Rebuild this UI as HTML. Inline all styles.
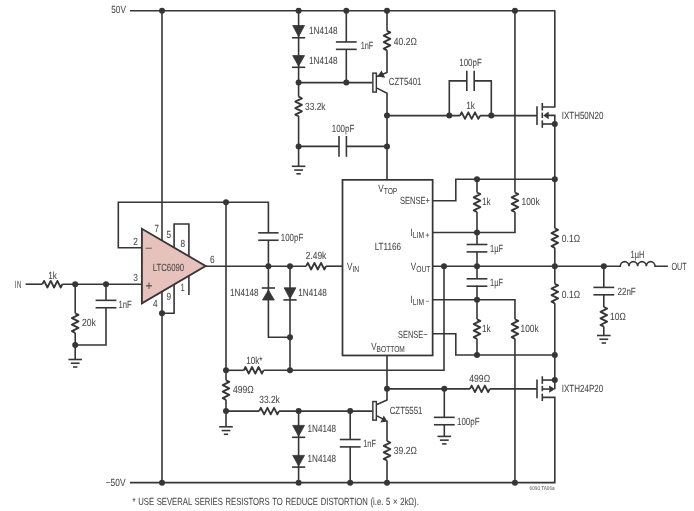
<!DOCTYPE html>
<html lang="en">
<head>
<meta charset="utf-8">
<title>LTC6090 / LT1166 high voltage amplifier schematic</title>
<style>
html,body{margin:0;padding:0;background:#fff;}
body{width:694px;height:511px;overflow:hidden;}
svg{display:block;}
svg{will-change:transform;}
svg text{font-family:"Liberation Sans",sans-serif;text-rendering:geometricPrecision;}
</style>
</head>
<body>
<svg width="694" height="511" viewBox="0 0 694 511">
<rect x="0" y="0" width="694" height="511" fill="#ffffff"/>
<g transform="translate(0,0)">
<path d="M130 10.8 L554.8 10.8 L554.8 107 L542.3 107" fill="none" stroke="#363636" stroke-width="1.6" stroke-linecap="butt" stroke-linejoin="miter"/>
<path d="M130 482.65 L554.8 482.65 L554.8 397.35 L542.3 397.35" fill="none" stroke="#363636" stroke-width="1.6" stroke-linecap="butt" stroke-linejoin="miter"/>
<circle cx="162" cy="10.8" r="3" fill="#363636"/>
<circle cx="298.6" cy="10.8" r="3" fill="#363636"/>
<circle cx="346.3" cy="10.8" r="3" fill="#363636"/>
<circle cx="387" cy="10.8" r="3" fill="#363636"/>
<circle cx="514.95" cy="10.8" r="3" fill="#363636"/>
<circle cx="162" cy="482.65" r="3" fill="#363636"/>
<circle cx="298.6" cy="482.65" r="3" fill="#363636"/>
<circle cx="350.2" cy="482.65" r="3" fill="#363636"/>
<circle cx="387" cy="482.65" r="3" fill="#363636"/>
<circle cx="514.95" cy="482.65" r="3" fill="#363636"/>
<path d="M298.6 10.8 L298.6 96.7" fill="none" stroke="#363636" stroke-width="1.6" stroke-linecap="butt" stroke-linejoin="miter"/>
<path d="M298.6 96.7 L301.9 98.33 L295.3 101.58 L301.9 104.83 L295.3 108.08 L301.9 111.33 L295.3 114.58 L298.6 116.2" fill="none" stroke="#363636" stroke-width="1.85" stroke-linecap="butt" stroke-linejoin="round"/>
<path d="M298.6 116.2 L298.6 166.3" fill="none" stroke="#363636" stroke-width="1.6" stroke-linecap="butt" stroke-linejoin="miter"/>
<polygon points="292.7,25.5 304.5,25.5 298.6,36.65" fill="#363636" stroke="#363636" stroke-width="0.8" stroke-linejoin="miter"/>
<path d="M292 37.75 L305.2 37.75" fill="none" stroke="#363636" stroke-width="1.6" stroke-linecap="butt" stroke-linejoin="miter"/>
<polygon points="292.7,55.6 304.5,55.6 298.6,66.2" fill="#363636" stroke="#363636" stroke-width="0.8" stroke-linejoin="miter"/>
<path d="M292 67.3 L305.2 67.3" fill="none" stroke="#363636" stroke-width="1.6" stroke-linecap="butt" stroke-linejoin="miter"/>
<circle cx="298.6" cy="82.6" r="3" fill="#363636"/>
<circle cx="298.6" cy="146.4" r="3" fill="#363636"/>
<path d="M291.8 166.3 L305.4 166.3" fill="none" stroke="#363636" stroke-width="1.6" stroke-linecap="butt" stroke-linejoin="miter"/>
<path d="M294.2 170.05 L303 170.05" fill="none" stroke="#363636" stroke-width="1.6" stroke-linecap="butt" stroke-linejoin="miter"/>
<path d="M296.4 173.8 L300.8 173.8" fill="none" stroke="#363636" stroke-width="1.6" stroke-linecap="butt" stroke-linejoin="miter"/>
<path d="M298.6 82.6 L372.1 82.6" fill="none" stroke="#363636" stroke-width="1.6" stroke-linecap="butt" stroke-linejoin="miter"/>
<circle cx="346.3" cy="82.6" r="3" fill="#363636"/>
<path d="M346.3 10.8 L346.3 42" fill="none" stroke="#363636" stroke-width="1.6" stroke-linecap="butt" stroke-linejoin="miter"/>
<path d="M346.3 49.3 L346.3 82.6" fill="none" stroke="#363636" stroke-width="1.6" stroke-linecap="butt" stroke-linejoin="miter"/>
<rect x="344.3" y="41.95" width="4" height="7.4" fill="#fff"/>
<path d="M335.9 41.95 L356.7 41.95" fill="none" stroke="#363636" stroke-width="1.6" stroke-linecap="butt" stroke-linejoin="miter"/>
<path d="M335.9 49.35 L356.7 49.35" fill="none" stroke="#363636" stroke-width="1.6" stroke-linecap="butt" stroke-linejoin="miter"/>
<path d="M298.6 146.4 L339 146.4" fill="none" stroke="#363636" stroke-width="1.6" stroke-linecap="butt" stroke-linejoin="miter"/>
<path d="M346.4 146.4 L387 146.4" fill="none" stroke="#363636" stroke-width="1.6" stroke-linecap="butt" stroke-linejoin="miter"/>
<rect x="339" y="144.4" width="7.4" height="4" fill="#fff"/>
<path d="M339 136 L339 156.8" fill="none" stroke="#363636" stroke-width="1.6" stroke-linecap="butt" stroke-linejoin="miter"/>
<path d="M346.4 136 L346.4 156.8" fill="none" stroke="#363636" stroke-width="1.6" stroke-linecap="butt" stroke-linejoin="miter"/>
<path d="M387 10.8 L387 30.8" fill="none" stroke="#363636" stroke-width="1.6" stroke-linecap="butt" stroke-linejoin="miter"/>
<path d="M387 30.8 L390.3 32.42 L383.7 35.67 L390.3 38.92 L383.7 42.17 L390.3 45.42 L383.7 48.67 L387 50.3" fill="none" stroke="#363636" stroke-width="1.85" stroke-linecap="butt" stroke-linejoin="round"/>
<path d="M387 50.3 L387 72.5 L377 76.4" fill="none" stroke="#363636" stroke-width="1.6" stroke-linecap="butt" stroke-linejoin="miter"/>
<rect x="372.85" y="73.15" width="3.5" height="18.9" fill="#fff" stroke="#363636" stroke-width="1.45"/>
<polygon points="377.3,76.4 381.6,70.5 385.2,77.8" fill="#363636"/>
<path d="M377 88.1 L387 93.3 L387 180" fill="none" stroke="#363636" stroke-width="1.6" stroke-linecap="butt" stroke-linejoin="miter"/>
<circle cx="387" cy="115.6" r="3" fill="#363636"/>
<circle cx="387" cy="146.4" r="3" fill="#363636"/>
<path d="M387 115.6 L460 115.6" fill="none" stroke="#363636" stroke-width="1.6" stroke-linecap="butt" stroke-linejoin="miter"/>
<path d="M460 115.6 L461.67 112.3 L465 118.9 L468.33 112.3 L471.67 118.9 L475 112.3 L478.33 118.9 L480 115.6" fill="none" stroke="#363636" stroke-width="1.85" stroke-linecap="butt" stroke-linejoin="round"/>
<path d="M480 115.6 L537 115.6" fill="none" stroke="#363636" stroke-width="1.6" stroke-linecap="butt" stroke-linejoin="miter"/>
<circle cx="449.3" cy="115.6" r="3" fill="#363636"/>
<circle cx="491.3" cy="115.6" r="3" fill="#363636"/>
<path d="M449.3 115.6 L449.3 80.85 L467 80.85" fill="none" stroke="#363636" stroke-width="1.6" stroke-linecap="butt" stroke-linejoin="miter"/>
<path d="M474 80.85 L491.3 80.85 L491.3 115.6" fill="none" stroke="#363636" stroke-width="1.6" stroke-linecap="butt" stroke-linejoin="miter"/>
<rect x="466.8" y="78.85" width="7.4" height="4" fill="#fff"/>
<path d="M466.8 70.65 L466.8 91.05" fill="none" stroke="#363636" stroke-width="1.6" stroke-linecap="butt" stroke-linejoin="miter"/>
<path d="M474.2 70.65 L474.2 91.05" fill="none" stroke="#363636" stroke-width="1.6" stroke-linecap="butt" stroke-linejoin="miter"/>
<path d="M537 106.2 L537 125" fill="none" stroke="#363636" stroke-width="1.6" stroke-linecap="butt" stroke-linejoin="miter"/>
<path d="M542.3 103 L542.3 110.6" fill="none" stroke="#363636" stroke-width="1.6" stroke-linecap="butt" stroke-linejoin="miter"/>
<path d="M542.3 112.6 L542.3 118" fill="none" stroke="#363636" stroke-width="1.6" stroke-linecap="butt" stroke-linejoin="miter"/>
<path d="M542.3 120.4 L542.3 127.8" fill="none" stroke="#363636" stroke-width="1.6" stroke-linecap="butt" stroke-linejoin="miter"/>
<path d="M542.3 124 L554.8 124" fill="none" stroke="#363636" stroke-width="1.6" stroke-linecap="butt" stroke-linejoin="miter"/>
<path d="M548 115.4 L554.8 115.4 L554.8 124" fill="none" stroke="#363636" stroke-width="1.6" stroke-linecap="butt" stroke-linejoin="miter"/>
<polygon points="543.2,115.4 548.7,111.6 548.7,119.2" fill="#363636"/>
<circle cx="554.8" cy="124" r="3" fill="#363636"/>
<path d="M537 379.45 L537 398.25" fill="none" stroke="#363636" stroke-width="1.6" stroke-linecap="butt" stroke-linejoin="miter"/>
<path d="M542.3 376.25 L542.3 383.85" fill="none" stroke="#363636" stroke-width="1.6" stroke-linecap="butt" stroke-linejoin="miter"/>
<path d="M542.3 385.85 L542.3 391.25" fill="none" stroke="#363636" stroke-width="1.6" stroke-linecap="butt" stroke-linejoin="miter"/>
<path d="M542.3 393.65 L542.3 401.05" fill="none" stroke="#363636" stroke-width="1.6" stroke-linecap="butt" stroke-linejoin="miter"/>
<path d="M542.3 380.05 L554.8 380.05" fill="none" stroke="#363636" stroke-width="1.6" stroke-linecap="butt" stroke-linejoin="miter"/>
<path d="M542.3 389.05 L549.5 389.05" fill="none" stroke="#363636" stroke-width="1.6" stroke-linecap="butt" stroke-linejoin="miter"/>
<path d="M554.8 380.05 L554.8 389.3" fill="none" stroke="#363636" stroke-width="1.6" stroke-linecap="butt" stroke-linejoin="miter"/>
<polygon points="554.9,389.05 549.2,385.45 549.2,392.75" fill="#363636"/>
<circle cx="554.8" cy="380.05" r="3" fill="#363636"/>
<path d="M554.8 124 L554.8 228.3" fill="none" stroke="#363636" stroke-width="1.6" stroke-linecap="butt" stroke-linejoin="miter"/>
<path d="M554.8 228.3 L558.1 229.93 L551.5 233.18 L558.1 236.43 L551.5 239.68 L558.1 242.93 L551.5 246.18 L554.8 247.8" fill="none" stroke="#363636" stroke-width="1.85" stroke-linecap="butt" stroke-linejoin="round"/>
<path d="M554.8 247.8 L554.8 283.8" fill="none" stroke="#363636" stroke-width="1.6" stroke-linecap="butt" stroke-linejoin="miter"/>
<path d="M554.8 283.8 L558.1 285.43 L551.5 288.68 L558.1 291.93 L551.5 295.18 L558.1 298.43 L551.5 301.68 L554.8 303.3" fill="none" stroke="#363636" stroke-width="1.85" stroke-linecap="butt" stroke-linejoin="round"/>
<path d="M554.8 303.3 L554.8 379.8" fill="none" stroke="#363636" stroke-width="1.6" stroke-linecap="butt" stroke-linejoin="miter"/>
<circle cx="554.8" cy="179.3" r="3" fill="#363636"/>
<circle cx="554.8" cy="266.2" r="3" fill="#363636"/>
<circle cx="554.8" cy="355" r="3" fill="#363636"/>
<path d="M514.95 10.8 L514.95 192.5" fill="none" stroke="#363636" stroke-width="1.6" stroke-linecap="butt" stroke-linejoin="miter"/>
<path d="M514.95 192.5 L518.25 194.12 L511.65 197.38 L518.25 200.62 L511.65 203.88 L518.25 207.12 L511.65 210.38 L514.95 212" fill="none" stroke="#363636" stroke-width="1.85" stroke-linecap="butt" stroke-linejoin="round"/>
<path d="M514.95 212 L514.95 232.5 L432.5 232.5" fill="none" stroke="#363636" stroke-width="1.6" stroke-linecap="butt" stroke-linejoin="miter"/>
<path d="M432.5 299.7 L514.95 299.7 L514.95 319.3" fill="none" stroke="#363636" stroke-width="1.6" stroke-linecap="butt" stroke-linejoin="miter"/>
<path d="M514.95 319.3 L518.25 320.93 L511.65 324.18 L518.25 327.43 L511.65 330.68 L518.25 333.93 L511.65 337.18 L514.95 338.8" fill="none" stroke="#363636" stroke-width="1.85" stroke-linecap="butt" stroke-linejoin="round"/>
<path d="M514.95 338.8 L514.95 482.65" fill="none" stroke="#363636" stroke-width="1.6" stroke-linecap="butt" stroke-linejoin="miter"/>
<path d="M432.5 200.8 L455.8 200.8 L455.8 179.3 L554.8 179.3" fill="none" stroke="#363636" stroke-width="1.6" stroke-linecap="butt" stroke-linejoin="miter"/>
<path d="M432.5 333.8 L455.8 333.8 L455.8 355 L554.8 355" fill="none" stroke="#363636" stroke-width="1.6" stroke-linecap="butt" stroke-linejoin="miter"/>
<path d="M477 179.3 L477 192.5" fill="none" stroke="#363636" stroke-width="1.6" stroke-linecap="butt" stroke-linejoin="miter"/>
<path d="M477 192.5 L480.3 194.12 L473.7 197.38 L480.3 200.62 L473.7 203.88 L480.3 207.12 L473.7 210.38 L477 212" fill="none" stroke="#363636" stroke-width="1.85" stroke-linecap="butt" stroke-linejoin="round"/>
<path d="M477 212 L477 244.3" fill="none" stroke="#363636" stroke-width="1.6" stroke-linecap="butt" stroke-linejoin="miter"/>
<rect x="475" y="244.5" width="4" height="7.4" fill="#fff"/>
<path d="M466.6 244.5 L487.4 244.5" fill="none" stroke="#363636" stroke-width="1.6" stroke-linecap="butt" stroke-linejoin="miter"/>
<path d="M466.6 251.9 L487.4 251.9" fill="none" stroke="#363636" stroke-width="1.6" stroke-linecap="butt" stroke-linejoin="miter"/>
<path d="M477 251.4 L477 278.3" fill="none" stroke="#363636" stroke-width="1.6" stroke-linecap="butt" stroke-linejoin="miter"/>
<rect x="475" y="278.8" width="4" height="7.4" fill="#fff"/>
<path d="M466.6 278.8 L487.4 278.8" fill="none" stroke="#363636" stroke-width="1.6" stroke-linecap="butt" stroke-linejoin="miter"/>
<path d="M466.6 286.2 L487.4 286.2" fill="none" stroke="#363636" stroke-width="1.6" stroke-linecap="butt" stroke-linejoin="miter"/>
<path d="M477 285.4 L477 319.3" fill="none" stroke="#363636" stroke-width="1.6" stroke-linecap="butt" stroke-linejoin="miter"/>
<path d="M477 319.3 L480.3 320.93 L473.7 324.18 L480.3 327.43 L473.7 330.68 L480.3 333.93 L473.7 337.18 L477 338.8" fill="none" stroke="#363636" stroke-width="1.85" stroke-linecap="butt" stroke-linejoin="round"/>
<path d="M477 338.8 L477 355" fill="none" stroke="#363636" stroke-width="1.6" stroke-linecap="butt" stroke-linejoin="miter"/>
<circle cx="477" cy="179.3" r="3" fill="#363636"/>
<circle cx="477" cy="232.5" r="3" fill="#363636"/>
<circle cx="477" cy="266.2" r="3" fill="#363636"/>
<circle cx="477" cy="299.7" r="3" fill="#363636"/>
<circle cx="477" cy="355" r="3" fill="#363636"/>
<path d="M432.5 266.2 L620.3 266.2" fill="none" stroke="#363636" stroke-width="1.6" stroke-linecap="butt" stroke-linejoin="miter"/>
<path d="M619.6 266.2 H620.3 a4.34 4.6 0 0 1 8.68 0 a4.34 4.6 0 0 1 8.68 0 a4.34 4.6 0 0 1 8.68 0 a4.34 4.6 0 0 1 8.68 0 H667.9" fill="none" stroke="#363636" stroke-width="1.6" stroke-linejoin="miter"/>
<circle cx="444" cy="266.2" r="3" fill="#363636"/>
<circle cx="603.8" cy="266.2" r="3" fill="#363636"/>
<path d="M603.8 266.2 L603.8 287" fill="none" stroke="#363636" stroke-width="1.6" stroke-linecap="butt" stroke-linejoin="miter"/>
<rect x="601.8" y="287.4" width="4" height="7.4" fill="#fff"/>
<path d="M593.4 287.4 L614.2 287.4" fill="none" stroke="#363636" stroke-width="1.6" stroke-linecap="butt" stroke-linejoin="miter"/>
<path d="M593.4 294.8 L614.2 294.8" fill="none" stroke="#363636" stroke-width="1.6" stroke-linecap="butt" stroke-linejoin="miter"/>
<path d="M603.8 294.4 L603.8 307" fill="none" stroke="#363636" stroke-width="1.6" stroke-linecap="butt" stroke-linejoin="miter"/>
<path d="M603.8 307 L607.1 308.63 L600.5 311.9 L607.1 315.17 L600.5 318.43 L607.1 321.7 L600.5 324.97 L603.8 326.6" fill="none" stroke="#363636" stroke-width="1.85" stroke-linecap="butt" stroke-linejoin="round"/>
<path d="M603.8 326.6 L603.8 335.5" fill="none" stroke="#363636" stroke-width="1.6" stroke-linecap="butt" stroke-linejoin="miter"/>
<path d="M597 335.5 L610.6 335.5" fill="none" stroke="#363636" stroke-width="1.6" stroke-linecap="butt" stroke-linejoin="miter"/>
<path d="M599.4 339.25 L608.2 339.25" fill="none" stroke="#363636" stroke-width="1.6" stroke-linecap="butt" stroke-linejoin="miter"/>
<path d="M601.6 343 L606 343" fill="none" stroke="#363636" stroke-width="1.6" stroke-linecap="butt" stroke-linejoin="miter"/>
<path d="M444 266.2 L444 370.3 L263.5 370.3" fill="none" stroke="#363636" stroke-width="1.6" stroke-linecap="butt" stroke-linejoin="miter"/>
<path d="M243.8 370.3 L245.44 367 L248.73 373.6 L252.01 367 L255.29 373.6 L258.57 367 L261.86 373.6 L263.5 370.3" fill="none" stroke="#363636" stroke-width="1.85" stroke-linecap="butt" stroke-linejoin="round"/>
<path d="M243.8 370.3 L226 370.3" fill="none" stroke="#363636" stroke-width="1.6" stroke-linecap="butt" stroke-linejoin="miter"/>
<circle cx="290" cy="370.3" r="3" fill="#363636"/>
<circle cx="226" cy="370.3" r="3" fill="#363636"/>
<path d="M226 202.25 L226 380.3" fill="none" stroke="#363636" stroke-width="1.6" stroke-linecap="butt" stroke-linejoin="miter"/>
<path d="M226 380.3 L229.3 381.93 L222.7 385.18 L229.3 388.43 L222.7 391.68 L229.3 394.93 L222.7 398.18 L226 399.8" fill="none" stroke="#363636" stroke-width="1.85" stroke-linecap="butt" stroke-linejoin="round"/>
<path d="M226 399.8 L226 426.8" fill="none" stroke="#363636" stroke-width="1.6" stroke-linecap="butt" stroke-linejoin="miter"/>
<path d="M219.2 426.8 L232.8 426.8" fill="none" stroke="#363636" stroke-width="1.6" stroke-linecap="butt" stroke-linejoin="miter"/>
<path d="M221.6 430.55 L230.4 430.55" fill="none" stroke="#363636" stroke-width="1.6" stroke-linecap="butt" stroke-linejoin="miter"/>
<path d="M223.8 434.3 L228.2 434.3" fill="none" stroke="#363636" stroke-width="1.6" stroke-linecap="butt" stroke-linejoin="miter"/>
<circle cx="226" cy="202.25" r="3" fill="#363636"/>
<circle cx="226" cy="411.1" r="3" fill="#363636"/>
<path d="M141.9 247.7 L118.3 247.7 L118.3 202.25 L268.4 202.25 L268.4 233" fill="none" stroke="#363636" stroke-width="1.6" stroke-linecap="butt" stroke-linejoin="miter"/>
<rect x="266.4" y="232.85" width="4" height="7.4" fill="#fff"/>
<path d="M258.2 232.85 L278.6 232.85" fill="none" stroke="#363636" stroke-width="1.6" stroke-linecap="butt" stroke-linejoin="miter"/>
<path d="M258.2 240.25 L278.6 240.25" fill="none" stroke="#363636" stroke-width="1.6" stroke-linecap="butt" stroke-linejoin="miter"/>
<path d="M268.4 240.1 L268.4 337.3 L290 337.3" fill="none" stroke="#363636" stroke-width="1.6" stroke-linecap="butt" stroke-linejoin="miter"/>
<path d="M290 266.2 L290 370.3" fill="none" stroke="#363636" stroke-width="1.6" stroke-linecap="butt" stroke-linejoin="miter"/>
<path d="M261.8 288 L275 288" fill="none" stroke="#363636" stroke-width="1.6" stroke-linecap="butt" stroke-linejoin="miter"/>
<polygon points="262.5,300 274.3,300 268.4,289.9" fill="#363636" stroke="#363636" stroke-width="0.8" stroke-linejoin="miter"/>
<polygon points="284.1,287.8 295.9,287.8 290,298.8" fill="#363636" stroke="#363636" stroke-width="0.8" stroke-linejoin="miter"/>
<path d="M283.4 299.9 L296.6 299.9" fill="none" stroke="#363636" stroke-width="1.6" stroke-linecap="butt" stroke-linejoin="miter"/>
<circle cx="268.4" cy="266.2" r="3" fill="#363636"/>
<circle cx="290" cy="266.2" r="3" fill="#363636"/>
<circle cx="290" cy="337.3" r="3" fill="#363636"/>
<path d="M205 266.2 L306.2 266.2" fill="none" stroke="#363636" stroke-width="1.6" stroke-linecap="butt" stroke-linejoin="miter"/>
<path d="M306.2 266.2 L307.85 262.9 L311.15 269.5 L314.45 262.9 L317.75 269.5 L321.05 262.9 L324.35 269.5 L326 266.2" fill="none" stroke="#363636" stroke-width="1.85" stroke-linecap="butt" stroke-linejoin="round"/>
<path d="M326 266.2 L342.5 266.2" fill="none" stroke="#363636" stroke-width="1.6" stroke-linecap="butt" stroke-linejoin="miter"/>
<path d="M162 10.8 L162 242" fill="none" stroke="#363636" stroke-width="1.6" stroke-linecap="butt" stroke-linejoin="miter"/>
<path d="M162 290 L162 482.65" fill="none" stroke="#363636" stroke-width="1.6" stroke-linecap="butt" stroke-linejoin="miter"/>
<circle cx="162" cy="313.2" r="3" fill="#363636"/>
<path d="M174.1 249 L174.1 224 L188.9 224 L188.9 257" fill="none" stroke="#363636" stroke-width="1.6" stroke-linecap="butt" stroke-linejoin="miter"/>
<path d="M174.1 283 L174.1 313.2 L162 313.2" fill="none" stroke="#363636" stroke-width="1.6" stroke-linecap="butt" stroke-linejoin="miter"/>
<path d="M188.9 274 L188.9 295" fill="none" stroke="#363636" stroke-width="1.6" stroke-linecap="butt" stroke-linejoin="miter"/>
<path d="M25.6 284.2 L42.4 284.2" fill="none" stroke="#363636" stroke-width="1.6" stroke-linecap="butt" stroke-linejoin="miter"/>
<path d="M42.4 284.2 L44.07 280.9 L47.4 287.5 L50.73 280.9 L54.07 287.5 L57.4 280.9 L60.73 287.5 L62.4 284.2" fill="none" stroke="#363636" stroke-width="1.85" stroke-linecap="butt" stroke-linejoin="round"/>
<path d="M62.4 284.2 L141.9 284.2" fill="none" stroke="#363636" stroke-width="1.6" stroke-linecap="butt" stroke-linejoin="miter"/>
<circle cx="75.2" cy="284.2" r="3" fill="#363636"/>
<circle cx="106" cy="284.2" r="3" fill="#363636"/>
<path d="M75.2 284.2 L75.2 313.3" fill="none" stroke="#363636" stroke-width="1.6" stroke-linecap="butt" stroke-linejoin="miter"/>
<path d="M75.2 313.3 L78.5 314.93 L71.9 318.18 L78.5 321.43 L71.9 324.68 L78.5 327.93 L71.9 331.18 L75.2 332.8" fill="none" stroke="#363636" stroke-width="1.85" stroke-linecap="butt" stroke-linejoin="round"/>
<path d="M75.2 332.8 L75.2 359.5" fill="none" stroke="#363636" stroke-width="1.6" stroke-linecap="butt" stroke-linejoin="miter"/>
<path d="M68.4 359.5 L82 359.5" fill="none" stroke="#363636" stroke-width="1.6" stroke-linecap="butt" stroke-linejoin="miter"/>
<path d="M70.8 363.25 L79.6 363.25" fill="none" stroke="#363636" stroke-width="1.6" stroke-linecap="butt" stroke-linejoin="miter"/>
<path d="M73 367 L77.4 367" fill="none" stroke="#363636" stroke-width="1.6" stroke-linecap="butt" stroke-linejoin="miter"/>
<circle cx="75.2" cy="345" r="3" fill="#363636"/>
<path d="M106 284.2 L106 300.5" fill="none" stroke="#363636" stroke-width="1.6" stroke-linecap="butt" stroke-linejoin="miter"/>
<rect x="104" y="300.35" width="4" height="7.4" fill="#fff"/>
<path d="M95.6 300.35 L116.4 300.35" fill="none" stroke="#363636" stroke-width="1.6" stroke-linecap="butt" stroke-linejoin="miter"/>
<path d="M95.6 307.75 L116.4 307.75" fill="none" stroke="#363636" stroke-width="1.6" stroke-linecap="butt" stroke-linejoin="miter"/>
<path d="M106 307.6 L106 345 L75.2 345" fill="none" stroke="#363636" stroke-width="1.6" stroke-linecap="butt" stroke-linejoin="miter"/>
<polygon points="141.9,228.8 141.9,303.3 205.6,266" fill="#e7c1bc" stroke="#363636" stroke-width="1.85" stroke-linejoin="miter"/>
<rect x="342.5" y="179.85" width="90.15" height="175.6" fill="none" stroke="#363636" stroke-width="1.75"/>
<path d="M226 411.1 L259.2 411.1" fill="none" stroke="#363636" stroke-width="1.6" stroke-linecap="butt" stroke-linejoin="miter"/>
<path d="M259.2 411.1 L260.85 407.8 L264.15 414.4 L267.45 407.8 L270.75 414.4 L274.05 407.8 L277.35 414.4 L279 411.1" fill="none" stroke="#363636" stroke-width="1.85" stroke-linecap="butt" stroke-linejoin="round"/>
<path d="M279 411.1 L372.1 411.1" fill="none" stroke="#363636" stroke-width="1.6" stroke-linecap="butt" stroke-linejoin="miter"/>
<circle cx="298.6" cy="411.1" r="3" fill="#363636"/>
<circle cx="350.2" cy="411.1" r="3" fill="#363636"/>
<path d="M298.6 411.1 L298.6 482.65" fill="none" stroke="#363636" stroke-width="1.6" stroke-linecap="butt" stroke-linejoin="miter"/>
<polygon points="292.7,425.4 304.5,425.4 298.6,436.2" fill="#363636" stroke="#363636" stroke-width="0.8" stroke-linejoin="miter"/>
<path d="M292 437.3 L305.2 437.3" fill="none" stroke="#363636" stroke-width="1.6" stroke-linecap="butt" stroke-linejoin="miter"/>
<polygon points="292.7,455.4 304.5,455.4 298.6,466" fill="#363636" stroke="#363636" stroke-width="0.8" stroke-linejoin="miter"/>
<path d="M292 467.1 L305.2 467.1" fill="none" stroke="#363636" stroke-width="1.6" stroke-linecap="butt" stroke-linejoin="miter"/>
<path d="M350.2 411.1 L350.2 439.6" fill="none" stroke="#363636" stroke-width="1.6" stroke-linecap="butt" stroke-linejoin="miter"/>
<rect x="348.2" y="439.5" width="4" height="7.4" fill="#fff"/>
<path d="M339.8 439.5 L360.6 439.5" fill="none" stroke="#363636" stroke-width="1.6" stroke-linecap="butt" stroke-linejoin="miter"/>
<path d="M339.8 446.9 L360.6 446.9" fill="none" stroke="#363636" stroke-width="1.6" stroke-linecap="butt" stroke-linejoin="miter"/>
<path d="M350.2 446.8 L350.2 482.65" fill="none" stroke="#363636" stroke-width="1.6" stroke-linecap="butt" stroke-linejoin="miter"/>
<path d="M387 355.4 L387 400.1 L377 404.5" fill="none" stroke="#363636" stroke-width="1.6" stroke-linecap="butt" stroke-linejoin="miter"/>
<rect x="372.85" y="401.55" width="3.5" height="18.6" fill="#fff" stroke="#363636" stroke-width="1.45"/>
<path d="M377 415.9 L385 420.1" fill="none" stroke="#363636" stroke-width="1.6" stroke-linecap="butt" stroke-linejoin="miter"/>
<path d="M387 420.5 L387 441" fill="none" stroke="#363636" stroke-width="1.6" stroke-linecap="butt" stroke-linejoin="miter"/>
<path d="M387 441 L390.3 442.62 L383.7 445.88 L390.3 449.12 L383.7 452.38 L390.3 455.62 L383.7 458.88 L387 460.5" fill="none" stroke="#363636" stroke-width="1.85" stroke-linecap="butt" stroke-linejoin="round"/>
<path d="M387 460.5 L387 482.65" fill="none" stroke="#363636" stroke-width="1.6" stroke-linecap="butt" stroke-linejoin="miter"/>
<polygon points="387.4,421.4 383.8,415.4 380.4,422.6" fill="#363636"/>
<circle cx="387" cy="388.85" r="3" fill="#363636"/>
<path d="M387 388.85 L470 388.85" fill="none" stroke="#363636" stroke-width="1.6" stroke-linecap="butt" stroke-linejoin="miter"/>
<path d="M470 388.85 L471.65 385.55 L474.95 392.15 L478.25 385.55 L481.55 392.15 L484.85 385.55 L488.15 392.15 L489.8 388.85" fill="none" stroke="#363636" stroke-width="1.85" stroke-linecap="butt" stroke-linejoin="round"/>
<path d="M489.8 388.85 L537 388.85" fill="none" stroke="#363636" stroke-width="1.6" stroke-linecap="butt" stroke-linejoin="miter"/>
<circle cx="444.3" cy="388.85" r="3" fill="#363636"/>
<path d="M444.3 388.85 L444.3 417.3" fill="none" stroke="#363636" stroke-width="1.6" stroke-linecap="butt" stroke-linejoin="miter"/>
<rect x="442.3" y="417.35" width="4" height="7.4" fill="#fff"/>
<path d="M433.9 417.35 L454.7 417.35" fill="none" stroke="#363636" stroke-width="1.6" stroke-linecap="butt" stroke-linejoin="miter"/>
<path d="M433.9 424.75 L454.7 424.75" fill="none" stroke="#363636" stroke-width="1.6" stroke-linecap="butt" stroke-linejoin="miter"/>
<path d="M444.3 424.8 L444.3 436.4" fill="none" stroke="#363636" stroke-width="1.6" stroke-linecap="butt" stroke-linejoin="miter"/>
<path d="M437.5 436.4 L451.1 436.4" fill="none" stroke="#363636" stroke-width="1.6" stroke-linecap="butt" stroke-linejoin="miter"/>
<path d="M439.9 440.15 L448.7 440.15" fill="none" stroke="#363636" stroke-width="1.6" stroke-linecap="butt" stroke-linejoin="miter"/>
<path d="M442.1 443.9 L446.5 443.9" fill="none" stroke="#363636" stroke-width="1.6" stroke-linecap="butt" stroke-linejoin="miter"/>
</g>
<g class="lbl" transform="translate(0,0.15)" fill="#484848" stroke="#484848" stroke-width="0.06">
<text x="111.3" y="13.3" font-size="10.35" textLength="14.6" lengthAdjust="spacingAndGlyphs">50V</text>
<text x="105.7" y="486" font-size="10.35" textLength="19.8" lengthAdjust="spacingAndGlyphs">−50V</text>
<text x="309" y="33.8" font-size="10.35" textLength="28.5" lengthAdjust="spacingAndGlyphs">1N4148</text>
<text x="309" y="63.8" font-size="10.35" textLength="28.5" lengthAdjust="spacingAndGlyphs">1N4148</text>
<text x="360.7" y="49.3" font-size="10.35" textLength="12.6" lengthAdjust="spacingAndGlyphs">1nF</text>
<text x="393.8" y="45" font-size="10.35" textLength="23" lengthAdjust="spacingAndGlyphs">40.2Ω</text>
<text x="388.8" y="85.3" font-size="10.35" textLength="32.6" lengthAdjust="spacingAndGlyphs">CZT5401</text>
<text x="305" y="109.7" font-size="10.35" textLength="20.5" lengthAdjust="spacingAndGlyphs">33.2k</text>
<text x="331.8" y="131.8" font-size="10.35" textLength="22.5" lengthAdjust="spacingAndGlyphs">100pF</text>
<text x="459.3" y="65.5" font-size="10.35" textLength="22.5" lengthAdjust="spacingAndGlyphs">100pF</text>
<text x="466.3" y="109.3" font-size="10.35" textLength="8.7" lengthAdjust="spacingAndGlyphs">1k</text>
<text x="561.8" y="118.6" font-size="10.35" textLength="41.6" lengthAdjust="spacingAndGlyphs">IXTH50N20</text>
<text x="561.8" y="392.3" font-size="10.35" textLength="41.4" lengthAdjust="spacingAndGlyphs">IXTH24P20</text>
<text x="280.8" y="240.5" font-size="10.35" textLength="22.5" lengthAdjust="spacingAndGlyphs">100pF</text>
<text x="305.8" y="258.8" font-size="10.35" textLength="20.5" lengthAdjust="spacingAndGlyphs">2.49k</text>
<text x="230" y="295.8" font-size="10.35" textLength="28.5" lengthAdjust="spacingAndGlyphs">1N4148</text>
<text x="298.3" y="295.8" font-size="10.35" textLength="28.5" lengthAdjust="spacingAndGlyphs">1N4148</text>
<text x="246.3" y="363.8" font-size="10.35" textLength="16.2" lengthAdjust="spacingAndGlyphs">10k*</text>
<text x="233" y="393" font-size="10.35" textLength="20.8" lengthAdjust="spacingAndGlyphs">499Ω</text>
<text x="259.3" y="403" font-size="10.35" textLength="20.5" lengthAdjust="spacingAndGlyphs">33.2k</text>
<text x="307.5" y="432.2" font-size="10.35" textLength="28.5" lengthAdjust="spacingAndGlyphs">1N4148</text>
<text x="307.5" y="462.2" font-size="10.35" textLength="28.5" lengthAdjust="spacingAndGlyphs">1N4148</text>
<text x="363.3" y="446.8" font-size="10.35" textLength="12.6" lengthAdjust="spacingAndGlyphs">1nF</text>
<text x="393.8" y="454.3" font-size="10.35" textLength="23" lengthAdjust="spacingAndGlyphs">39.2Ω</text>
<text x="389.7" y="413.6" font-size="10.35" textLength="32.8" lengthAdjust="spacingAndGlyphs">CZT5551</text>
<text x="457" y="424.8" font-size="10.35" textLength="22.5" lengthAdjust="spacingAndGlyphs">100pF</text>
<text x="469.3" y="381.5" font-size="10.35" textLength="20.8" lengthAdjust="spacingAndGlyphs">499Ω</text>
<text x="482" y="205.3" font-size="10.35" textLength="8.7" lengthAdjust="spacingAndGlyphs">1k</text>
<text x="482" y="332" font-size="10.35" textLength="8.7" lengthAdjust="spacingAndGlyphs">1k</text>
<text x="521.5" y="205.3" font-size="10.35" textLength="18.1" lengthAdjust="spacingAndGlyphs">100k</text>
<text x="520.5" y="332.3" font-size="10.35" textLength="18.1" lengthAdjust="spacingAndGlyphs">100k</text>
<text x="490" y="251.8" font-size="10.35" textLength="13" lengthAdjust="spacingAndGlyphs">1µF</text>
<text x="490" y="285.8" font-size="10.35" textLength="13" lengthAdjust="spacingAndGlyphs">1µF</text>
<text x="561.8" y="241.8" font-size="10.35" textLength="18.2" lengthAdjust="spacingAndGlyphs">0.1Ω</text>
<text x="561.8" y="297.5" font-size="10.35" textLength="18.2" lengthAdjust="spacingAndGlyphs">0.1Ω</text>
<text x="630.5" y="258" font-size="10.35" textLength="13.8" lengthAdjust="spacingAndGlyphs">1µH</text>
<text x="671.5" y="269.5" font-size="10.35" textLength="15.2" lengthAdjust="spacingAndGlyphs">OUT</text>
<text x="617.5" y="294.5" font-size="10.35" textLength="18.2" lengthAdjust="spacingAndGlyphs">22nF</text>
<text x="610" y="320" font-size="10.35" textLength="15.8" lengthAdjust="spacingAndGlyphs">10Ω</text>
<text x="14.4" y="288" font-size="10.35" textLength="7.8" lengthAdjust="spacingAndGlyphs" letter-spacing="1.6">IN</text>
<text x="48.3" y="278.8" font-size="10.35" textLength="8.7" lengthAdjust="spacingAndGlyphs">1k</text>
<text x="82" y="326.3" font-size="10.35" textLength="13.8" lengthAdjust="spacingAndGlyphs">20k</text>
<text x="118.6" y="308" font-size="10.35" textLength="13.2" lengthAdjust="spacingAndGlyphs">1nF</text>
<text x="152.7" y="270.6" font-size="10.35" textLength="31.5" lengthAdjust="spacingAndGlyphs">LTC6090</text>
<text x="154.6" y="231.4" font-size="10.35" textLength="4.4" lengthAdjust="spacingAndGlyphs">7</text>
<text x="166.6" y="238" font-size="10.35" textLength="4.6" lengthAdjust="spacingAndGlyphs">5</text>
<text x="180.6" y="247" font-size="10.35" textLength="4.6" lengthAdjust="spacingAndGlyphs">8</text>
<text x="133.2" y="245.2" font-size="10.35" textLength="4.6" lengthAdjust="spacingAndGlyphs">2</text>
<text x="133.2" y="281.1" font-size="10.35" textLength="4.6" lengthAdjust="spacingAndGlyphs">3</text>
<text x="209.9" y="263.2" font-size="10.35" textLength="4.6" lengthAdjust="spacingAndGlyphs">6</text>
<text x="152.9" y="306.6" font-size="10.35" textLength="4.6" lengthAdjust="spacingAndGlyphs">4</text>
<text x="166.6" y="300" font-size="10.35" textLength="4.6" lengthAdjust="spacingAndGlyphs">9</text>
<text x="180.4" y="291" font-size="10.35" textLength="4.2" lengthAdjust="spacingAndGlyphs">1</text>
<text x="145" y="251.6" font-size="11.5" textLength="7.4" lengthAdjust="spacingAndGlyphs">−</text>
<text x="145.6" y="290" font-size="13" textLength="7" lengthAdjust="spacingAndGlyphs">+</text>
<text x="374.7" y="249.6" font-size="10.35" textLength="26.4" lengthAdjust="spacingAndGlyphs">LT1166</text>
<text transform="translate(378.3,192) scale(0.78,1)" font-size="10.35">V<tspan dy="1.8" font-size="8.6">TOP</tspan></text>
<text x="400" y="203.9" font-size="10.35" textLength="30" lengthAdjust="spacingAndGlyphs">SENSE+</text>
<text transform="translate(410.6,235.8) scale(0.78,1)" font-size="10.35">I<tspan dy="2.2" font-size="8.6">LIM</tspan><tspan dy="-0.4" dx="1.9" font-size="8.6">+</tspan></text>
<text transform="translate(347,269.4) scale(0.78,1)" font-size="10.35">V<tspan dy="2" font-size="8.6">IN</tspan></text>
<text transform="translate(410.8,269.4) scale(0.78,1)" font-size="10.35">V<tspan dy="2" font-size="8.6">OUT</tspan></text>
<text transform="translate(410.6,302.5) scale(0.78,1)" font-size="10.35">I<tspan dy="2.2" font-size="8.6">LIM</tspan><tspan dy="-1.1" dx="1.9" font-size="8.6">−</tspan></text>
<text x="398" y="337.5" font-size="10.35" textLength="29.5" lengthAdjust="spacingAndGlyphs">SENSE−</text>
<text transform="translate(371.3,349.6) scale(0.77,1)" font-size="10.35">V<tspan dy="2.2" font-size="8.6">BOTTOM</tspan></text>
<text x="132.5" y="505.3" font-size="10.35" textLength="286.3" lengthAdjust="spacingAndGlyphs" word-spacing="0.8">* USE SEVERAL SERIES RESISTORS TO REDUCE DISTORTION (i.e. 5 × 2kΩ).</text>
<text x="529.6" y="489.6" font-size="5.9" textLength="25" lengthAdjust="spacingAndGlyphs" stroke="none" fill="#555">6090 TA06a</text>
</g>
</svg>
</body>
</html>
